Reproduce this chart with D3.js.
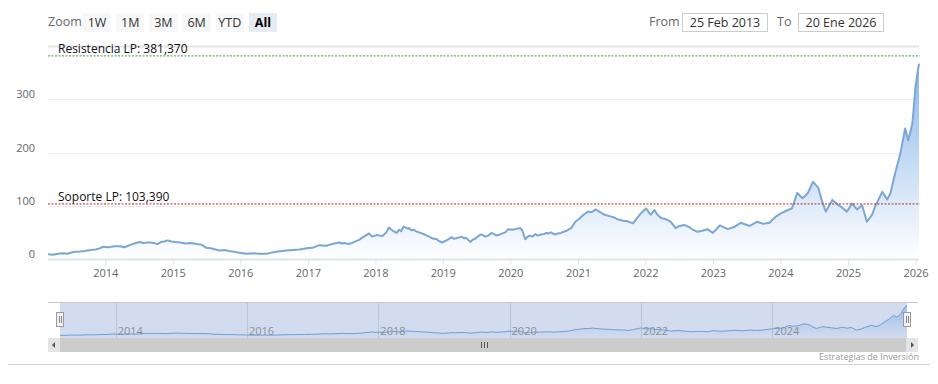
<!DOCTYPE html>
<html>
<head>
<meta charset="utf-8">
<script src="https://cdn.jsdelivr.net/npm/d3@7"></script>
<style>
body { margin: 0; background: #fff; }
svg text { font-family: "Open Sans", sans-serif; }
</style>
</head>
<body>
<div id="chart"></div>
<script>
// price series
var dates = ["2013-02-25","2013-03-25","2013-04-20","2013-05-15","2013-06-10","2013-07-12","2013-08-15","2013-09-10","2013-10-12","2013-11-10","2013-12-01","2013-12-21",
  "2014-01-20","2014-02-20","2014-03-21","2014-04-16","2014-05-20","2014-06-15","2014-07-08","2014-07-25","2014-08-15","2014-08-30","2014-09-20","2014-10-11","2014-10-30","2014-11-15","2014-12-05","2014-12-25",
  "2015-01-15","2015-02-10","2015-03-10","2015-04-05","2015-05-12","2015-06-05","2015-07-02","2015-07-25","2015-08-20","2015-09-12","2015-10-10","2015-11-01","2015-11-21","2015-12-20",
  "2016-02-03","2016-03-10","2016-04-10","2016-05-21","2016-06-20","2016-07-25","2016-09-06","2016-10-10","2016-11-16","2016-12-24",
  "2017-01-25","2017-03-04","2017-04-10","2017-05-10","2017-06-20","2017-07-05","2017-07-15","2017-08-12","2017-09-15","2017-10-05","2017-10-22","2017-11-28","2017-12-14",
  "2018-01-10","2018-02-06","2018-02-20","2018-03-01","2018-03-15","2018-04-05","2018-04-26","2018-05-10","2018-05-20","2018-06-03","2018-06-25","2018-07-01","2018-07-16","2018-07-28","2018-08-10","2018-08-25","2018-09-09","2018-09-25","2018-10-05","2018-10-20","2018-11-02","2018-11-30","2018-12-10","2018-12-28",
  "2019-01-25","2019-02-19","2019-03-01","2019-03-15","2019-04-12","2019-04-25","2019-05-05","2019-05-31","2019-06-10","2019-06-25","2019-07-05","2019-07-24","2019-08-05","2019-08-19","2019-09-05","2019-09-20","2019-10-05","2019-10-18","2019-11-05","2019-11-20","2019-12-05","2019-12-21",
  "2020-01-15","2020-02-05","2020-02-24","2020-03-05","2020-03-22","2020-04-01","2020-04-15","2020-05-01","2020-05-15","2020-05-28","2020-06-15","2020-07-01","2020-07-15","2020-07-28","2020-08-10","2020-08-22","2020-09-01","2020-09-15","2020-10-01","2020-10-30","2020-11-25","2020-12-18",
  "2021-01-10","2021-01-31","2021-02-24","2021-03-15","2021-04-08","2021-05-01","2021-05-26","2021-06-25","2021-07-15","2021-08-07","2021-09-02","2021-09-25","2021-10-26","2021-11-20","2021-12-08",
  "2022-01-04","2022-01-15","2022-01-29","2022-02-05","2022-02-19","2022-03-05","2022-03-23","2022-04-05","2022-04-20","2022-05-01","2022-05-17","2022-06-14","2022-07-05","2022-07-31","2022-08-25","2022-09-15","2022-10-09","2022-11-05","2022-12-02",
  "2023-01-01","2023-02-07","2023-03-23","2023-04-25","2023-05-31","2023-07-19","2023-08-30","2023-10-01","2023-11-03","2023-12-05",
  "2024-01-06","2024-02-04","2024-03-04","2024-04-01","2024-04-30","2024-05-29","2024-06-26","2024-07-25","2024-08-12","2024-09-03","2024-10-08","2024-10-31","2024-11-25","2024-12-26",
  "2025-01-23","2025-02-19","2025-03-18","2025-04-13","2025-05-11","2025-05-27","2025-07-05","2025-08-01","2025-08-18","2025-09-13","2025-10-11","2025-11-06","2025-11-23","2025-12-15",
  "2026-01-01","2026-01-20"];
var values = [9,8,10,11,10,13,14,15,17,18,20,23,
  22,24,24,22,27,30,32,30,31,31,30,28,32,33,35,33,
  32,31,29,30,28,27,21,20,18,16,17,15,14,12,
  10,11,10,10,12,14,16,17,18,20,
  21,26,25,28,31,29,30,28,33,36,40,48,42,
  45,43,47,50,59,53,49,55,52,61,57,58,54,55,52,50,48,46,44,42,39,37,34,31,
  36,41,38,39,42,39,40,32,36,38,41,46,45,42,44,49,47,44,46,48,50,56,
  55,57,58,54,37,41,44,42,47,44,46,47,49,48,50,47,46,48,49,53,58,70,
  76,83,89,88,93,88,83,80,78,74,72,71,67,78,86,
  95,90,83,86,92,84,78,76,75,73,70,58,62,64,60,55,51,53,56,
  49,63,56,60,68,62,70,66,68,79,
  86,91,95,124,114,124,145,133,110,89,111,104,98,89,
  104,93,101,70,83,98,126,112,123,161,198,245,223,254,
  323,367];

var yTicks = [0, 100, 200, 300];
var yMax = 400;
var xTickYears = [2014, 2015, 2016, 2017, 2018, 2019, 2020, 2021, 2022, 2023, 2024, 2025, 2026];
var navTickYears = [2014, 2016, 2018, 2020, 2022, 2024];
var zoomButtons = ["1W", "1M", "3M", "6M", "YTD", "All"];
var soporte = 103.39;
var resistencia = 381.37;
var soporteLabel = "Soporte LP: 103,390";
var resistenciaLabel = "Resistencia LP: 381,370";
var fromText = "25 Feb 2013";
var toText = "20 Ene 2026";
var creditText = "Estrategias de Inversión";

var svgWidth = 938, svgHeight = 384;
var plot = { left: 48, right: 919, top: 46, bottom: 259 };
var nav = { left: 60, right: 907, top: 302, bottom: 338 };

var parse = d3.timeParse("%Y-%m-%d");
var data = dates.map(function (d, i) { return { date: parse(d), value: values[i] }; });
data.sort((a, b) => a.date - b.date);

var svg = d3.select("#chart").append("svg")
  .attr("width", svgWidth)
  .attr("height", svgHeight);

var defs = svg.append("defs");
var grad = defs.append("linearGradient").attr("id", "areaGrad")
  .attr("gradientUnits", "userSpaceOnUse")
  .attr("x1", 0).attr("y1", plot.top).attr("x2", 0).attr("y2", plot.bottom);
grad.append("stop").attr("offset", 0).attr("stop-color", "#7fb0e8");
grad.append("stop").attr("offset", 1).attr("stop-color", "#ffffff");
var navGrad = defs.append("linearGradient").attr("id", "navGrad")
  .attr("gradientUnits", "userSpaceOnUse")
  .attr("x1", 0).attr("y1", nav.top).attr("x2", 0).attr("y2", nav.bottom);
navGrad.append("stop").attr("offset", 0).attr("stop-color", "#6fa4e2");
navGrad.append("stop").attr("offset", 1).attr("stop-color", "#6fa4e2").attr("stop-opacity", 0);

// scales
var x = d3.scaleTime()
  .domain(d3.extent(data, d => d.date))
  .range([plot.left, plot.right]);
var y = d3.scaleLinear()
  .domain([0, yMax])
  .range([plot.bottom, plot.top]);

// --- toolbar ---
svg.append("text").attr("x", 48).attr("y", 26)
  .attr("font-size", "12.5px").attr("fill", "#666").text("Zoom");
zoomButtons.forEach(function (b, i) {
  var bx = 83 + i * 33.2;
  var sel = b === "All";
  svg.append("rect").attr("x", bx).attr("y", 13).attr("width", 28).attr("height", 19)
    .attr("fill", sel ? "#e6ebf5" : "#f7f7f7");
  svg.append("text").attr("x", bx + 14).attr("y", 26.5)
    .attr("text-anchor", "middle").attr("font-size", "12.5px")
    .attr("font-weight", sel ? "bold" : "normal")
    .attr("fill", sel ? "#000" : "#333").text(b);
});
svg.append("text").attr("x", 649).attr("y", 26)
  .attr("font-size", "12.5px").attr("fill", "#666").text("From");
svg.append("rect").attr("x", 682.5).attr("y", 13.5).attr("width", 85).attr("height", 18)
  .attr("fill", "#fff").attr("stroke", "#ccc");
svg.append("text").attr("x", 725).attr("y", 26.5).attr("text-anchor", "middle")
  .attr("font-size", "12.5px").attr("fill", "#333").text(fromText);
svg.append("text").attr("x", 777).attr("y", 26)
  .attr("font-size", "12.5px").attr("fill", "#666").text("To");
svg.append("rect").attr("x", 798.5).attr("y", 13.5).attr("width", 85).attr("height", 18)
  .attr("fill", "#fff").attr("stroke", "#ccc");
svg.append("text").attr("x", 841).attr("y", 26.5).attr("text-anchor", "middle")
  .attr("font-size", "12.5px").attr("fill", "#333").text(toText);

// --- grid + y labels ---
svg.append("g").selectAll("line").data(yTicks.concat([yMax]).filter(t => t > 0)).enter()
  .append("line")
  .attr("x1", plot.left).attr("x2", plot.right)
  .attr("y1", d => Math.round(y(d)) + 0.5).attr("y2", d => Math.round(y(d)) + 0.5)
  .attr("stroke", d => d === yMax ? "#e4e4e4" : "#ececec")
  .attr("stroke-width", d => d === yMax ? 2 : 1);
svg.append("g").selectAll("text").data(yTicks).enter()
  .append("text")
  .attr("x", 35).attr("y", d => y(d) - 1)
  .attr("text-anchor", "end").attr("font-size", "11px").attr("fill", "#666")
  .text(d => d);

// --- series ---
var area = d3.area().x(d => x(d.date)).y0(plot.bottom).y1(d => y(d.value));
var line = d3.line().x(d => x(d.date)).y(d => y(d.value));
svg.append("path").datum(data).attr("d", area).attr("fill", "url(#areaGrad)");
svg.append("path").datum(data).attr("d", line)
  .attr("fill", "none").attr("stroke", "#7ca6d3").attr("stroke-width", 2)
  .attr("stroke-linejoin", "round");

// --- x axis ---
var xAxis = d3.axisBottom(x)
  .tickValues(xTickYears.map(yr => new Date(yr, 0, 1)))
  .tickFormat(d3.timeFormat("%Y"))
  .tickSize(5).tickPadding(5);
var gx = svg.append("g").attr("transform", "translate(0," + (plot.bottom + 0.5) + ")").call(xAxis);
gx.select(".domain").attr("stroke", "#dde3ec").attr("stroke-width", 2)
  .attr("d", "M" + plot.left + ",0H" + plot.right);
gx.selectAll(".tick line").attr("stroke", "#dde3ec");
gx.selectAll(".tick text").attr("font-size", "11px").attr("fill", "#666")
  .attr("font-family", "Open Sans, sans-serif");

// --- reference lines ---
svg.append("line").attr("x1", plot.left).attr("x2", plot.right + 1)
  .attr("y1", y(resistencia)).attr("y2", y(resistencia))
  .attr("stroke", "#3c9a3c").attr("stroke-dasharray", "2,1.5");
svg.append("text").attr("x", 58).attr("y", y(resistencia) - 3)
  .attr("font-size", "12px").attr("fill", "#111").text(resistenciaLabel);
svg.append("line").attr("x1", plot.left).attr("x2", plot.right + 1)
  .attr("y1", y(soporte)).attr("y2", y(soporte))
  .attr("stroke", "#b02a2a").attr("stroke-dasharray", "2,1.5");
svg.append("text").attr("x", 58).attr("y", y(soporte) - 3)
  .attr("font-size", "12px").attr("fill", "#111").text(soporteLabel);

// --- navigator ---
var xn = d3.scaleTime().domain(x.domain()).range([nav.left, nav.right]);
var yn = d3.scaleLinear().domain([0, d3.max(values)]).range([nav.bottom - 2, nav.top + 3]);
svg.append("rect").attr("x", nav.left).attr("y", nav.top)
  .attr("width", nav.right - nav.left).attr("height", nav.bottom - nav.top)
  .attr("fill", "#d3dcee");
svg.append("g").selectAll("line").data(navTickYears).enter().append("line")
  .attr("x1", d => Math.round(xn(new Date(d, 0, 1))) + 0.5)
  .attr("x2", d => Math.round(xn(new Date(d, 0, 1))) + 0.5)
  .attr("y1", nav.top).attr("y2", nav.bottom)
  .attr("stroke", "#bcc5d6");
var navArea = d3.area().x(d => xn(d.date)).y0(nav.bottom).y1(d => yn(d.value));
var navLine = d3.line().x(d => xn(d.date)).y(d => yn(d.value));
svg.append("path").datum(data).attr("d", navArea).attr("fill", "url(#navGrad)").attr("opacity", 0.6);
svg.append("path").datum(data).attr("d", navLine)
  .attr("fill", "none").attr("stroke", "#6f9fd8").attr("stroke-width", 1);
svg.append("g").selectAll("text").data(navTickYears).enter().append("text")
  .attr("x", d => xn(new Date(d, 0, 1)) + 2).attr("y", 335)
  .attr("font-size", "11px").attr("fill", "#8a8f99")
  .text(d => d);
svg.append("path")
  .attr("d", "M" + plot.left + "," + (nav.top + 0.5) + "H" + (plot.right - 1))
  .attr("stroke", "#c8c8cc").attr("fill", "none");

// scrollbar
var sbTop = nav.bottom, sbH = 14;
svg.append("rect").attr("x", plot.left).attr("y", sbTop).attr("width", plot.right - 1 - plot.left).attr("height", sbH)
  .attr("fill", "#eeeeee");
svg.append("rect").attr("x", nav.left).attr("y", sbTop).attr("width", nav.right - nav.left).attr("height", sbH)
  .attr("fill", "#cccccc");
[[plot.left, "M55,342L52,345L55,348Z"], [plot.right - 13, "M911,342L914,345L911,348Z"]].forEach(function (b) {
  svg.append("rect").attr("x", b[0]).attr("y", sbTop).attr("width", 12).attr("height", sbH)
    .attr("fill", "#e4e4e4");
  svg.append("path").attr("d", b[1]).attr("fill", "#555");
});
var gripX = Math.round((nav.left + nav.right) / 2);
[-3, 0, 3].forEach(function (o) {
  svg.append("line").attr("x1", gripX + o + 0.5).attr("x2", gripX + o + 0.5)
    .attr("y1", sbTop + 4).attr("y2", sbTop + 10).attr("stroke", "#555");
});

// handles
[nav.left, nav.right].forEach(function (hx) {
  svg.append("rect").attr("x", hx - 3.5).attr("y", 312.5).attr("width", 7).attr("height", 14)
    .attr("fill", "#f2f2f2").attr("stroke", "#999");
  [-1, 1].forEach(function (o) {
    svg.append("line").attr("x1", hx + o + 0.5).attr("x2", hx + o + 0.5)
      .attr("y1", 316).attr("y2", 323).attr("stroke", "#888");
  });
});

// bottom rule + credit
svg.append("line").attr("x1", 8).attr("x2", 930).attr("y1", 364.5).attr("y2", 364.5)
  .attr("stroke", "#d4d4d4");
svg.append("text").attr("x", plot.right).attr("y", 360)
  .attr("text-anchor", "end").attr("font-size", "9px").attr("fill", "#999")
  .text(creditText);
</script>
</body>
</html>
